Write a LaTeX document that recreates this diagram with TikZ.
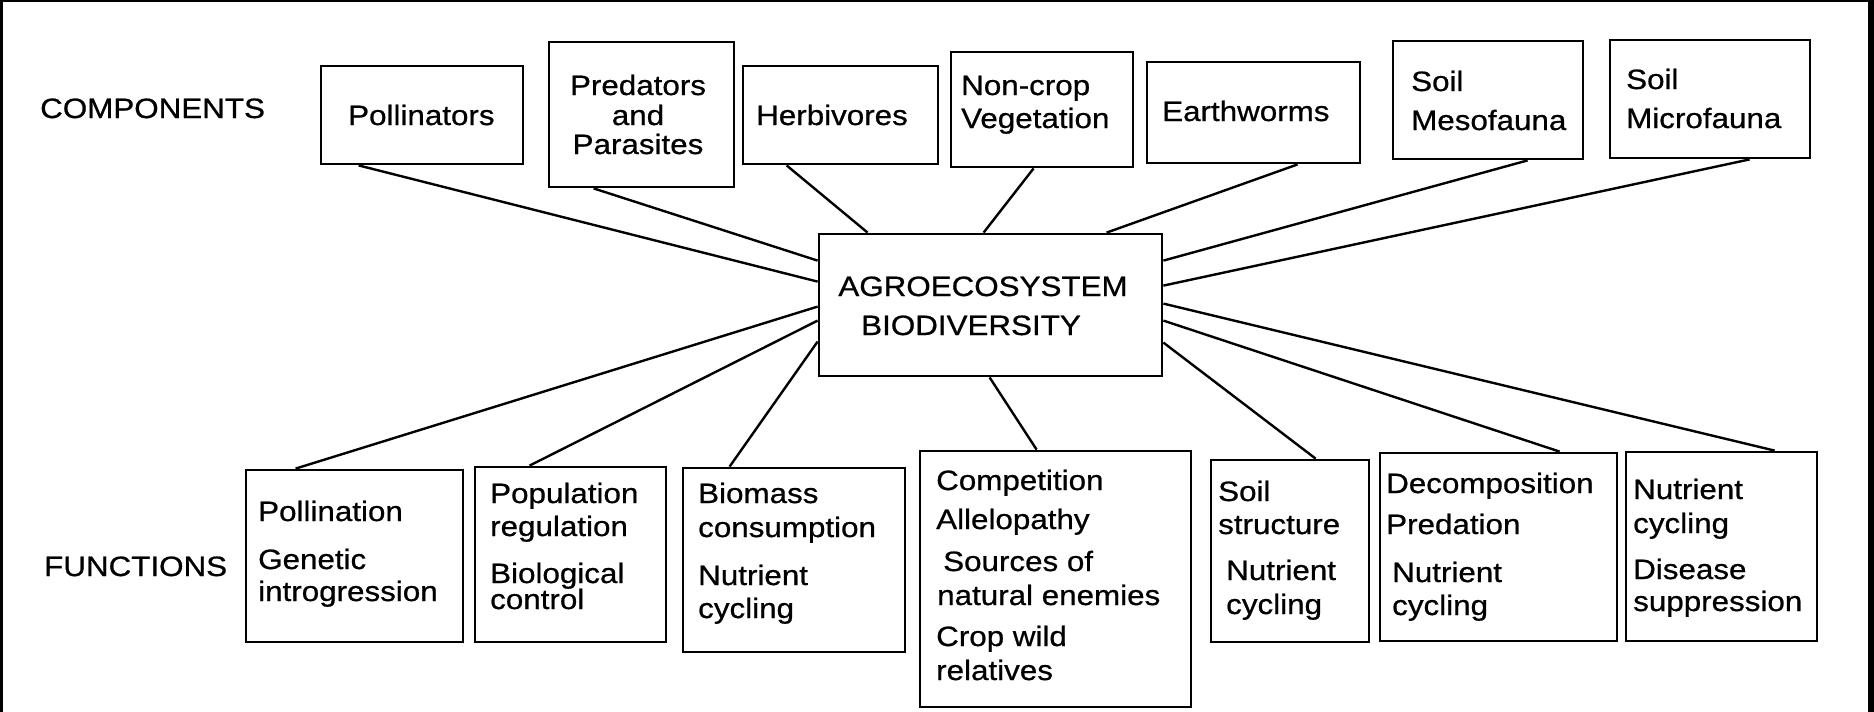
\documentclass[tikz,border=0pt]{standalone}
\usepackage{fontspec}
\setmainfont{Liberation Sans}[FakeStretch=1.12,FakeBold=0.7]
\begin{document}
\begin{tikzpicture}[x=1pt,y=-1pt,
  box/.style={draw,line width=2.8pt,inner sep=0pt},
  link/.style={line width=2.4pt},
  txt/.style={inner sep=0pt,anchor=base west,font=\fontsize{28}{33}\selectfont},
  ctxt/.style={txt,anchor=base}]
\useasboundingbox (0,0) rectangle (1874,712);
\fill[black] (0,0) rectangle (1874,712);
\fill[white] (3,2) rectangle (1868,713);

% central node
\node[box,minimum width=343pt,minimum height=142pt] (cen) at (990.5,305) {};
\node[ctxt] (cenA) at (983,296) {AGROECOSYSTEM};
\node[ctxt] (cenB) at (971,335) {BIODIVERSITY};

% components
\node[txt] (lcomp) at (40,118) {COMPONENTS};
\node[box,minimum width=202pt,minimum height=98pt] (poll) at (422,115) {};
\node[txt] (pollA) at (348,125) {Pollinators};
\node[box,minimum width=185pt,minimum height=145pt] (pred) at (641.5,114.5) {};
\node[ctxt] (predA) at (638,95) {Predators};
\node[ctxt] (predB) at (638,125) {and};
\node[ctxt] (predC) at (638,154) {Parasites};
\node[box,minimum width=195pt,minimum height=98pt] (herb) at (840.5,115) {};
\node[txt] (herbA) at (756,125) {Herbivores};
\node[box,minimum width=182pt,minimum height=115pt] (ncv) at (1042,109.5) {};
\node[txt] (ncvA) at (961,95) {Non-crop};
\node[txt] (ncvB) at (961,128) {Vegetation};
\node[box,minimum width=213pt,minimum height=101pt] (earth) at (1253.5,112.5) {};
\node[txt] (earthA) at (1162,121) {Earthworms};
\node[box,minimum width=190pt,minimum height=118pt] (meso) at (1488,100) {};
\node[txt] (mesoA) at (1411,91) {Soil};
\node[txt] (mesoB) at (1411,130) {Mesofauna};
\node[box,minimum width=200pt,minimum height=118pt] (micro) at (1710,99) {};
\node[txt] (microA) at (1626,89) {Soil};
\node[txt] (microB) at (1626,128) {Microfauna};

% functions
\node[txt] (lfunc) at (44,576) {FUNCTIONS};
\node[box,minimum width=217pt,minimum height=172pt] (fpoll) at (354.5,556) {};
\node[txt] (fpollA) at (258,521) {Pollination};
\node[txt] (fpollB) at (258,569) {Genetic};
\node[txt] (fpollC) at (258,601) {introgression};
\node[box,minimum width=191pt,minimum height=175pt] (fpop) at (570.5,554.5) {};
\node[txt] (fpopA) at (490,503) {Population};
\node[txt] (fpopB) at (490,536) {regulation};
\node[txt] (fpopC) at (490,583) {Biological};
\node[txt] (fpopD) at (490,609) {control};
\node[box,minimum width=222pt,minimum height=184pt] (fbio) at (794,560) {};
\node[txt] (fbioA) at (698,503) {Biomass};
\node[txt] (fbioB) at (698,537) {consumption};
\node[txt] (fbioC) at (698,585) {Nutrient};
\node[txt] (fbioD) at (698,618) {cycling};
\node[box,minimum width=271pt,minimum height=256pt] (fcomp) at (1055.5,579) {};
\node[txt] (fcompA) at (936,490) {Competition};
\node[txt] (fcompB) at (936,529) {Allelopathy};
\node[txt] (fcompC) at (943,571) {Sources of};
\node[txt] (fcompD) at (937,605) {natural enemies};
\node[txt] (fcompE) at (936,646) {Crop wild};
\node[txt] (fcompF) at (936,680) {relatives};
\node[box,minimum width=158pt,minimum height=182pt] (fsoil) at (1290,551) {};
\node[txt] (fsoilA) at (1218,501) {Soil};
\node[txt] (fsoilB) at (1218,534) {structure};
\node[txt] (fsoilC) at (1226,580) {Nutrient};
\node[txt] (fsoilD) at (1226,614) {cycling};
\node[box,minimum width=237pt,minimum height=188pt] (fdec) at (1498.5,547) {};
\node[txt] (fdecA) at (1386,493) {Decomposition};
\node[txt] (fdecB) at (1386,534) {Predation};
\node[txt] (fdecC) at (1392,582) {Nutrient};
\node[txt] (fdecD) at (1392,615) {cycling};
\node[box,minimum width=191pt,minimum height=189pt] (fnut) at (1721.5,546.5) {};
\node[txt] (fnutA) at (1633,499) {Nutrient};
\node[txt] (fnutB) at (1633,533) {cycling};
\node[txt] (fnutC) at (1633,579) {Disease};
\node[txt] (fnutD) at (1633,611) {suppression};

% connectors: components
\draw[link] ([xshift=39pt]poll.south west) -- ([yshift=-49pt]cen.north west);
\draw[link] ([xshift=46pt]pred.south west) -- ([yshift=-28pt]cen.north west);
\draw[link] ([xshift=45pt]herb.south west) -- ([xshift=50pt]cen.north west);
\draw[link] ([xshift=84pt]ncv.south west) -- ([xshift=166pt]cen.north west);
\draw[link] ([xshift=152pt]earth.south west) -- ([xshift=289pt]cen.north west);
\draw[link] ([xshift=136pt]meso.south west) -- ([yshift=-28pt]cen.north east);
\draw[link] ([xshift=141pt]micro.south west) -- ([yshift=-53pt]cen.north east);

% connectors: functions
\draw[link] ([xshift=51pt]fpoll.north west) -- ([yshift=-74pt]cen.north west);
\draw[link] ([xshift=56pt]fpop.north west) -- ([yshift=-88pt]cen.north west);
\draw[link] ([xshift=48pt]fbio.north west) -- ([yshift=-109pt]cen.north west);
\draw[link] ([xshift=118pt]fcomp.north west) -- ([xshift=172pt]cen.south west);
\draw[link] ([xshift=106pt]fsoil.north west) -- ([yshift=-110pt]cen.north east);
\draw[link] ([xshift=181pt]fdec.north west) -- ([yshift=-88pt]cen.north east);
\draw[link] ([xshift=150pt]fnut.north west) -- ([yshift=-71pt]cen.north east);
\end{tikzpicture}
\end{document}
